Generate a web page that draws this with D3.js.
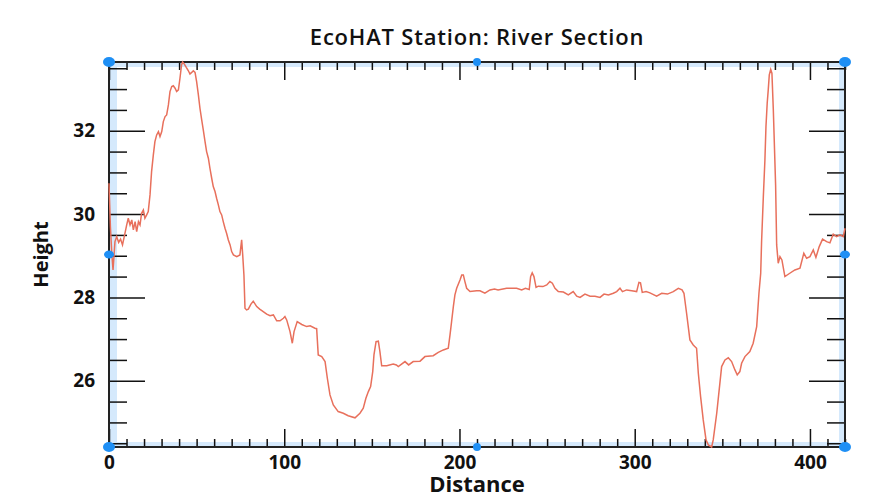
<!DOCTYPE html>
<html>
<head>
<meta charset="utf-8">
<script src="https://cdn.jsdelivr.net/npm/d3@7"></script>
<style>
  body { margin: 0; background: #fff; }
  text { font-family: "Open Sans", "DejaVu Sans", sans-serif; fill: #111; }
</style>
</head>
<body>
<svg id="chart"></svg>
<script>
// river cross-section
const distance = [0.0, 0.8, 1.6, 2.3, 3.4, 4.4, 5.5, 6.6, 7.7, 8.7, 10.1, 11.0, 12.0, 13.0, 13.9, 14.9, 15.8, 16.8, 17.7, 18.6,
  19.6, 20.5, 21.5, 22.4, 23.4, 24.3, 25.3, 26.2, 27.2, 28.2, 29.1, 30.1, 31.0, 32.0, 32.9, 33.9, 34.8, 35.8, 36.7, 37.7,
  38.6, 39.6, 40.5, 41.4, 42.0, 43.0, 44.1, 45.3, 46.2, 47.2, 48.1, 49.1, 50.0, 51.0, 51.9, 52.9, 53.8, 54.8, 55.7, 56.7,
  57.6, 58.6, 59.5, 60.5, 61.4, 62.4, 63.3, 64.3, 65.2, 66.2, 67.1, 68.1, 69.1, 70.0, 71.0, 72.9, 74.7, 75.7, 76.3, 77.0,
  77.6, 78.5, 79.5, 81.0, 82.3, 84.3, 86.0, 88.0, 90.0, 91.9, 93.8, 95.7, 97.6, 99.5, 100.4, 101.4, 103.3, 104.6, 105.6, 107.4,
  110.0, 112.8, 114.8, 117.5, 118.5, 119.4, 121.4, 123.3, 124.6, 126.1, 128.0, 130.8, 133.7, 136.5, 140.4, 143.2, 145.1, 146.6, 148.0, 149.3,
  150.5, 151.2, 152.4, 153.7, 154.6, 155.6, 158.5, 162.2, 164.0, 165.1, 168.9, 171.0, 173.6, 177.5, 180.3, 185.0, 187.9, 190.8, 193.6, 194.6,
  195.5, 196.5, 197.4, 198.4, 200.3, 201.3, 202.2, 203.1, 204.1, 206.0, 209.8, 211.7, 214.5, 217.4, 220.0, 222.0, 226.9, 232.6, 235.5, 237.6,
  239.8, 240.6, 241.5, 242.5, 243.7, 245.0, 247.6, 249.8, 251.6, 253.0, 254.5, 256.4, 259.3, 262.1, 264.9, 266.9, 268.8, 271.6, 274.5, 277.3,
  280.2, 282.5, 285.0, 287.8, 289.7, 291.6, 293.0, 295.4, 298.3, 301.1, 302.4, 303.3, 304.3, 306.5, 308.7, 312.5, 315.4, 318.7, 322.0, 324.9,
  327.0, 328.1, 329.6, 331.5, 333.4, 335.3, 336.3, 337.6, 339.1, 340.7, 342.0, 343.9, 344.8, 346.8, 348.2, 349.6, 351.5, 353.4, 355.3, 357.2,
  358.5, 360.0, 361.0, 362.9, 365.7, 367.6, 369.6, 370.9, 371.9, 372.4, 373.4, 374.3, 374.9, 375.6, 376.2, 376.8, 377.6, 378.3, 379.1, 380.4,
  381.0, 381.9, 382.9, 384.0, 385.7, 388.5, 391.4, 394.3, 396.5, 398.1, 400.0, 401.9, 403.4, 405.3, 407.2, 409.5, 411.4, 413.3, 415.2, 417.1,
  419.0, 420.0];
const height = [30.74, 29.70, 29.05, 28.66, 29.34, 29.46, 29.32, 29.40, 29.26, 29.46, 29.74, 29.90, 29.74, 29.86, 29.62, 29.82, 29.58, 29.82, 29.74, 30.02,
  30.10, 29.90, 29.98, 30.06, 30.46, 31.02, 31.42, 31.74, 31.90, 31.98, 31.86, 31.98, 32.22, 32.34, 32.38, 32.62, 32.94, 33.06, 33.08, 33.02,
  32.94, 32.98, 33.26, 33.58, 33.65, 33.60, 33.52, 33.44, 33.36, 33.40, 33.44, 33.40, 33.18, 32.86, 32.54, 32.26, 32.02, 31.74, 31.50, 31.34,
  31.10, 30.86, 30.66, 30.54, 30.38, 30.22, 30.06, 29.98, 29.82, 29.66, 29.54, 29.38, 29.26, 29.10, 29.02, 28.98, 29.02, 29.38, 29.02, 28.54,
  27.74, 27.70, 27.72, 27.84, 27.91, 27.78, 27.72, 27.66, 27.60, 27.56, 27.58, 27.44, 27.44, 27.50, 27.54, 27.46, 27.18, 26.90, 27.18, 27.42,
  27.35, 27.30, 27.32, 27.26, 27.25, 26.62, 26.58, 26.46, 26.06, 25.66, 25.42, 25.26, 25.22, 25.16, 25.11, 25.22, 25.34, 25.58, 25.74, 25.86,
  26.22, 26.62, 26.94, 26.95, 26.70, 26.36, 26.36, 26.40, 26.38, 26.34, 26.46, 26.38, 26.46, 26.47, 26.58, 26.60, 26.68, 26.74, 26.78, 27.10,
  27.42, 27.78, 28.06, 28.22, 28.42, 28.54, 28.54, 28.38, 28.22, 28.14, 28.16, 28.16, 28.10, 28.18, 28.20, 28.18, 28.22, 28.22, 28.18, 28.22,
  28.19, 28.50, 28.59, 28.50, 28.24, 28.27, 28.26, 28.30, 28.38, 28.34, 28.22, 28.14, 28.13, 28.06, 28.14, 28.03, 28.00, 28.08, 28.03, 28.03,
  28.00, 28.08, 28.06, 28.10, 28.14, 28.22, 28.14, 28.18, 28.16, 28.14, 28.36, 28.35, 28.12, 28.14, 28.11, 28.03, 28.10, 28.08, 28.14, 28.22,
  28.18, 28.10, 27.62, 26.98, 26.86, 26.78, 26.18, 25.62, 25.06, 24.58, 24.46, 24.41, 24.58, 25.22, 25.78, 26.34, 26.50, 26.55, 26.46, 26.26,
  26.14, 26.22, 26.42, 26.58, 26.70, 26.90, 27.30, 28.10, 28.58, 29.34, 30.42, 31.30, 32.10, 32.66, 32.98, 33.34, 33.47, 33.38, 32.50, 30.70,
  29.26, 28.82, 28.98, 28.90, 28.50, 28.58, 28.66, 28.70, 29.06, 28.94, 28.98, 29.14, 28.96, 29.22, 29.40, 29.34, 29.31, 29.52, 29.46, 29.50,
  29.46, 29.66];

const xRange = [0, 420];
const yRange = [24.41, 33.65];
const xMajor = [0, 100, 200, 300, 400];
const yMajor = [26, 28, 30, 32];
const titleText = "EcoHAT Station: River Section";
const xTitle = "Distance";
const yTitle = "Height";

const W = 885, H = 504;
const margin = {top: 62, right: 40, bottom: 57, left: 109};
const iw = W - margin.left - margin.right;
const ih = H - margin.top - margin.bottom;

const svg = d3.select("#chart").attr("width", W).attr("height", H);
const g = svg.append("g").attr("transform", `translate(${margin.left},${margin.top})`);

const x = d3.scaleLinear().domain(xRange).range([0, iw]);
const y = d3.scaleLinear().domain(yRange).range([ih, 0]);

// light blue selection band just inside the frame
const band = "#d5e9fc";
g.append("rect").attr("x", 0).attr("y", 0).attr("width", 8).attr("height", ih).attr("fill", band);
g.append("rect").attr("x", iw - 6).attr("y", 0).attr("width", 6).attr("height", ih).attr("fill", band);
g.append("rect").attr("x", 0).attr("y", 0).attr("width", iw).attr("height", 5).attr("fill", band);
g.append("rect").attr("x", 0).attr("y", ih - 5).attr("width", iw).attr("height", 5).attr("fill", band);

const xMinor = d3.range(xRange[0], xRange[1] + 0.1, 10).filter(v => !xMajor.includes(v));
const yMinor = d3.range(24.5, yRange[1], 0.5).filter(v => !yMajor.includes(v));

// ticks point inward on all four sides
const ax = (axis, vals, len) => axis.tickValues(vals).tickSize(-len).tickSizeOuter(0);

g.append("g").attr("transform", `translate(0,${ih})`)
  .call(ax(d3.axisBottom(x), xMinor, 8).tickFormat(""));
g.append("g").attr("class", "xlab").attr("transform", `translate(0,${ih})`)
  .call(ax(d3.axisBottom(x), xMajor, 18).tickFormat(d3.format("d")));
g.append("g").call(ax(d3.axisTop(x), xMinor, 8).tickFormat(""));
g.append("g").call(ax(d3.axisTop(x), xMajor, 18).tickFormat(""));

g.append("g").call(ax(d3.axisLeft(y), yMinor, 18).tickFormat(""));
g.append("g").attr("class", "ylab").call(ax(d3.axisLeft(y), yMajor, 36).tickFormat(d3.format("d")));
g.append("g").attr("transform", `translate(${iw},0)`).call(ax(d3.axisRight(y), yMinor, 18).tickFormat(""));
g.append("g").attr("transform", `translate(${iw},0)`).call(ax(d3.axisRight(y), yMajor, 36).tickFormat(""));

g.selectAll(".tick line").attr("stroke", "#111").attr("stroke-width", 1.5);
g.selectAll(".domain").remove();
g.selectAll(".xlab .tick text").attr("y", 9).attr("dy", "0.71em");
g.selectAll(".ylab .tick text").attr("x", -14);
g.selectAll(".tick text").attr("font-size", 19).attr("font-weight", "bold")
  .attr("font-family", "'Open Sans', sans-serif").attr("fill", "#111");

// frame
g.append("rect").attr("width", iw).attr("height", ih)
  .attr("fill", "none").attr("stroke", "#222").attr("stroke-width", 2);

g.append("clipPath").attr("id", "clip")
  .append("rect").attr("x", -1).attr("y", -2).attr("width", iw + 2).attr("height", ih + 4);

const line = d3.line().x((d, i) => x(distance[i])).y((d, i) => y(height[i]));
g.append("path").datum(height)
  .attr("clip-path", "url(#clip)")
  .attr("d", line)
  .attr("fill", "none").attr("stroke", "#e8705c").attr("stroke-width", 1.5);

// selection handles
const handles = [
  [0, 0, 6, 5], [iw / 2, 0, 4, 4], [iw, 0, 6, 5],
  [0, ih / 2, 5, 4], [iw, ih / 2, 5, 4],
  [0, ih, 6, 5], [iw / 2, ih, 4, 4], [iw, ih, 6, 5]
];
g.selectAll(".handle").data(handles).enter().append("ellipse")
  .attr("cx", d => d[0]).attr("cy", d => d[1])
  .attr("rx", d => d[2]).attr("ry", d => d[3])
  .attr("fill", "#1e8ff5");

svg.append("text").attr("x", margin.left + iw / 2).attr("y", 45)
  .attr("text-anchor", "middle").attr("font-size", 22).attr("font-weight", 600)
  .attr("letter-spacing", 0.8)
  .text(titleText);
svg.append("text").attr("x", margin.left + iw / 2).attr("y", 492)
  .attr("text-anchor", "middle").attr("font-size", 22).attr("font-weight", "bold")
  .text(xTitle);
svg.append("text").attr("transform", `translate(48,${margin.top + ih / 2}) rotate(-90)`)
  .attr("text-anchor", "middle").attr("font-size", 20).attr("font-weight", "bold")
  .text(yTitle);
</script>
</body>
</html>
